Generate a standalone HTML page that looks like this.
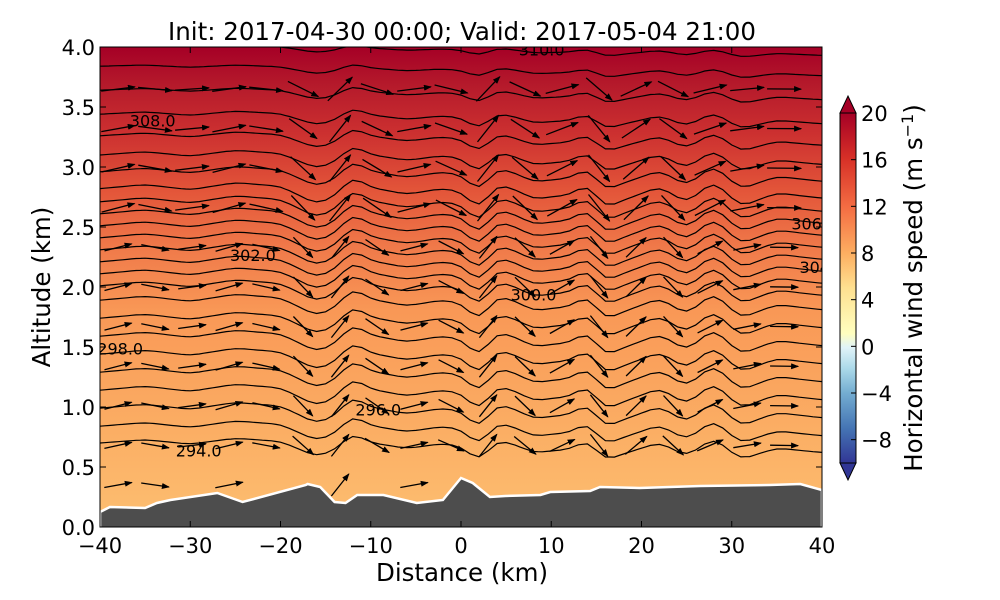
<!DOCTYPE html>
<html><head><meta charset="utf-8">
<style>
body{margin:0;background:#fff;}
svg{display:block;font-family:"DejaVu Sans","Liberation Sans",sans-serif;}
</style></head>
<body>
<svg id="chart" width="1000" height="600" viewBox="0 0 1000 600">
<defs>
<linearGradient id="bg" x1="0" y1="1" x2="0" y2="0">
<stop offset="0" stop-color="#fdbf71"/>
<stop offset="0.2" stop-color="#fbae64"/>
<stop offset="0.45" stop-color="#f99856"/>
<stop offset="0.58" stop-color="#f07a4a"/>
<stop offset="0.7" stop-color="#e35539"/>
<stop offset="0.82" stop-color="#cc3030"/>
<stop offset="0.92" stop-color="#b51a2b"/>
<stop offset="1" stop-color="#a50026"/>
</linearGradient>
<linearGradient id="cb" x1="0" y1="1" x2="0" y2="0">
<stop offset="0" stop-color="#313695"/>
<stop offset="0.1" stop-color="#4575b4"/>
<stop offset="0.2" stop-color="#74add1"/>
<stop offset="0.27" stop-color="#abd9e9"/>
<stop offset="0.33" stop-color="#e0f3f8"/>
<stop offset="0.37" stop-color="#ffffbf"/>
<stop offset="0.5" stop-color="#fee090"/>
<stop offset="0.6" stop-color="#fdae61"/>
<stop offset="0.73" stop-color="#f46d43"/>
<stop offset="0.87" stop-color="#d73027"/>
<stop offset="1" stop-color="#a50026"/>
</linearGradient>
<clipPath id="plotclip"><rect x="100" y="47" width="722" height="480"/></clipPath>
<marker id="ah" markerWidth="8" markerHeight="6" refX="7" refY="3" orient="auto" markerUnits="userSpaceOnUse"><path d="M0,0 L8,3 L0,6 z" fill="#000"/></marker>
</defs>
<text x="462" y="40" text-anchor="middle" font-size="24.5">Init: 2017-04-30 00:00; Valid: 2017-05-04 21:00</text>
<rect x="100" y="47" width="722" height="480" fill="url(#bg)"/>
<g id="lines" clip-path="url(#plotclip)"></g>
<g id="arrows" clip-path="url(#plotclip)"></g>
<g id="terrain" clip-path="url(#plotclip)"></g>
<g id="labels" clip-path="url(#plotclip)" font-size="16"></g>
<rect x="100" y="47" width="722" height="480" fill="none" stroke="#000" stroke-width="1"/>
<g id="axes" font-size="21"></g>
<text transform="translate(50,287) rotate(-90)" text-anchor="middle" font-size="24.5">Altitude (km)</text>
<text x="462" y="581" text-anchor="middle" font-size="24.5">Distance (km)</text>
<g id="colorbar">
<rect x="840" y="113" width="16" height="350" fill="url(#cb)" stroke="#000" stroke-width="1"/>
<path d="M840,113 L848,96 L856,113 z" fill="#a50026" stroke="#000" stroke-width="1"/>
<path d="M840,463 L848,480 L856,463 z" fill="#313695" stroke="#000" stroke-width="1"/>
</g>
<g id="cbticks" font-size="21"></g>
<text transform="translate(922,288) rotate(-90)" text-anchor="middle" font-size="24.5">Horizontal wind speed (m s<tspan baseline-shift="super" font-size="16">−1</tspan>)</text>
</svg>
<script>
const NS="http://www.w3.org/2000/svg";
const xTicks=[-40,-30,-20,-10,0,10,20,30,40];
const yTicks=[0.0,0.5,1.0,1.5,2.0,2.5,3.0,3.5,4.0];
const cbTicks=[-8,-4,0,4,8,12,16,20];
const terrainX=[-40,-38.9,-35,-33.7,-32.2,-27,-24.2,-17.2,-17,-15.6,-14,-12.8,-11.5,-8.6,-4.9,-2,0,1.3,3.2,4.9,8.8,9.9,14.3,15.4,19.8,26.5,34.2,37.6,40];
const terrainY=[0.125,0.167,0.158,0.2,0.225,0.283,0.208,0.35,0.358,0.333,0.208,0.2,0.267,0.267,0.2,0.225,0.408,0.367,0.25,0.258,0.267,0.292,0.3,0.333,0.325,0.342,0.35,0.358,0.308];
const waveX=[-40,-35,-30,-25,-20,-16,-14,-12,-10,-6,-2,0,2,4,6,8,12,14,16,18,22,25,28,31,35,40];
const waveY=[0,0.03,0,0.05,0.03,-0.08,-0.03,0.1,0.03,-0.01,0.03,0.01,-0.1,0.06,0.03,-0.03,0.0,0.07,-0.08,-0.03,0.06,-0.04,0.1,-0.06,0.03,0];
const thetaBase=[0.66,0.8,0.95,1.1,1.25,1.4,1.55,1.7,1.85,1.97,2.07,2.17,2.27,2.37,2.47,2.57,2.67,2.78,2.92,3.06,3.22,3.4,3.6,3.8,3.97];
const contourLabels=["308.0","302.0","300.0","298.0","296.0","294.0","306","304","310.0"];
const labelX=[-36.7,-25.6,5.5,-40.3,-11.7,-31.6,36.6,37.5,6.4];
const labelY=[3.38,2.26,1.93,1.48,0.97,0.63,2.52,2.16,3.97];
const X=v=>100+(v+40)*722/80, Y=v=>527-v*120, CB=v=>463-(v+10)*350/30;
function interp(xs,ys,x){for(let i=0;i<xs.length-1;i++){if(x<=xs[i+1]){const t=(x-xs[i])/(xs[i+1]-xs[i]);return ys[i]+t*(ys[i+1]-ys[i]);}}return ys[ys.length-1];}
function amp(h){return h<1?0.7+0.6*h:(h<2.8?1.3:Math.max(0.4,1.3-(h-2.8)*0.8));}
function smooth(x){return (interp(waveX,waveY,x-1)+2*interp(waveX,waveY,x)+interp(waveX,waveY,x+1))/4;}
const lines=document.getElementById('lines');
thetaBase.forEach((b,k)=>{let d="";for(let x=-40;x<=40.01;x+=0.5){const y=b+smooth(x)*amp(b)+(-x/40)*0.04;d+=(d?"L":"M")+X(x).toFixed(1)+","+Y(y).toFixed(1);}
const p=document.createElementNS(NS,'path');p.setAttribute('d',d);p.setAttribute('fill','none');p.setAttribute('stroke','#000');p.setAttribute('stroke-width','1.2');


lines.appendChild(p);});
const arrows=document.getElementById('arrows');
for(let x=-38;x<=39;x+=4.1){for(let h=0.35;h<=3.9;h+=0.33){if(h<interp(terrainX,terrainY,x)+0.1)continue;
const s=(smooth(x+1)-smooth(x-1))/2*amp(h);let ang=Math.atan2(-s*120*2.5,9.025);ang=Math.max(-0.9,Math.min(0.9,ang));
const L=h>2.5?34:28;const x0=X(x),y0=Y(h);
const l=document.createElementNS(NS,'line');l.setAttribute('x1',(x0-L/2*Math.cos(ang)).toFixed(1));l.setAttribute('y1',(y0-L/2*Math.sin(ang)).toFixed(1));
l.setAttribute('x2',(x0+L/2*Math.cos(ang)).toFixed(1));l.setAttribute('y2',(y0+L/2*Math.sin(ang)).toFixed(1));
l.setAttribute('stroke','#000');l.setAttribute('stroke-width','1.3');l.setAttribute('marker-end','url(#ah)');


arrows.appendChild(l);}}
const ter=document.getElementById('terrain');
let td="M"+X(-40)+","+Y(-0.1);terrainX.forEach((x,i)=>{td+="L"+X(x).toFixed(1)+","+Y(terrainY[i]).toFixed(1);});td+="L"+X(40)+","+Y(-0.1)+"Z";
const tp=document.createElementNS(NS,'path');tp.setAttribute('d',td);tp.setAttribute('fill','#4d4d4d');tp.setAttribute('stroke','#fff');tp.setAttribute('stroke-width','2.5');


ter.appendChild(tp);
const lab=document.getElementById('labels');
contourLabels.forEach((t,i)=>{const e=document.createElementNS(NS,'text');e.setAttribute('x',X(labelX[i]));e.setAttribute('y',Y(labelY[i])+5);e.textContent=t;


lab.appendChild(e);});
const ax=document.getElementById('axes');
xTicks.forEach(v=>{const t=document.createElementNS(NS,'text');t.setAttribute('x',X(v));t.setAttribute('y',553);t.setAttribute('text-anchor','middle');t.textContent=v<0?"\u2212"+(-v):v;


ax.appendChild(t);
[[527,521],[47,53]].forEach(([a,b])=>{const l=document.createElementNS(NS,'line');l.setAttribute('x1',X(v));l.setAttribute('x2',X(v));l.setAttribute('y1',a);l.setAttribute('y2',b);l.setAttribute('stroke','#000');ax.appendChild(l);});});
yTicks.forEach(v=>{const t=document.createElementNS(NS,'text');t.setAttribute('x',95);t.setAttribute('y',Y(v)+8);t.setAttribute('text-anchor','end');t.textContent=v.toFixed(1);


ax.appendChild(t);
[[100,106],[822,816]].forEach(([a,b])=>{const l=document.createElementNS(NS,'line');l.setAttribute('x1',a);l.setAttribute('x2',b);l.setAttribute('y1',Y(v));l.setAttribute('y2',Y(v));l.setAttribute('stroke','#000');ax.appendChild(l);});});
const cbt=document.getElementById('cbticks');
cbTicks.forEach(v=>{const t=document.createElementNS(NS,'text');t.setAttribute('x',861);t.setAttribute('y',CB(v)+8);t.textContent=v<0?"\u2212"+(-v):v;


cbt.appendChild(t);
const l=document.createElementNS(NS,'line');l.setAttribute('x1',851);l.setAttribute('x2',856);l.setAttribute('y1',CB(v));l.setAttribute('y2',CB(v));l.setAttribute('stroke','#000');cbt.appendChild(l);});
</script>
</body></html>
